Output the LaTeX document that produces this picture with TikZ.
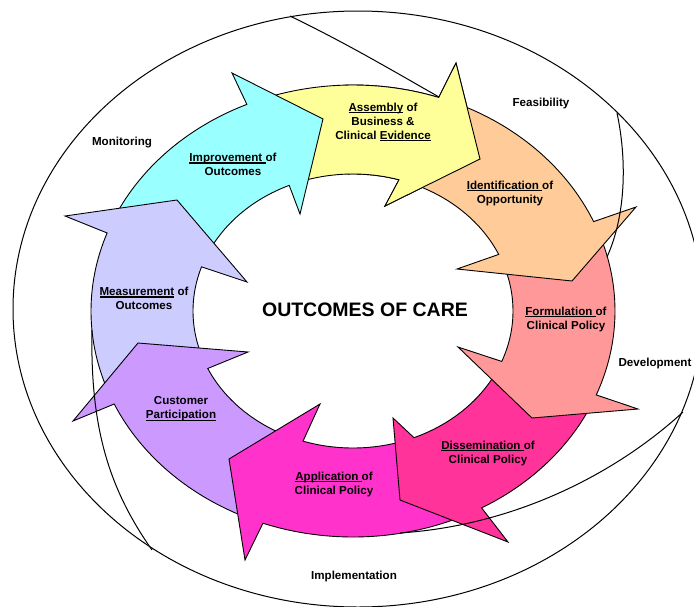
\documentclass[tikz,border=0pt]{standalone}
\usepackage{fontspec}
\setmainfont{Liberation Sans}
\usetikzlibrary{calc}
\definecolor{imprcyan}{HTML}{99FFFF}
\definecolor{asmyellow}{HTML}{FFFF99}
\definecolor{idorange}{HTML}{FFCC99}
\definecolor{formsalmon}{HTML}{FF9999}
\definecolor{dispink}{HTML}{FF3399}
\definecolor{appmagenta}{HTML}{FF33CC}
\definecolor{custviolet}{HTML}{CC99FF}
\definecolor{measlav}{HTML}{CCCCFF}
\tikzstyle{segment} = [draw=black, line width=0.9pt, line join=miter]
\tikzstyle{rim} = [draw=black, line width=1pt]
\tikzstyle{steplabel} = [font=\fontsize{11.6}{14}\selectfont\bfseries, align=center, inner sep=0pt]
\tikzstyle{phaselabel} = [font=\fontsize{11.6}{14}\selectfont\bfseries, inner sep=0pt]
\tikzstyle{hub} = [font=\fontsize{19.5}{23}\selectfont\bfseries, inner sep=0pt]
% thick underline that also covers a trailing space
\newcommand{\ulword}[1]{\setbox0\hbox{#1}\rlap{\rule[-2.4pt]{\wd0}{1.4pt}}\box0\relax}
% one block arrow of the ring: fill, tail (outer, inner), neck (outer, inner), outer barb, tip, inner barb
\newcommand{\ringarrow}[8]{%
  \filldraw[segment, fill=#1] ($(C)+(#2:262 and 226)$)
    arc[start angle=#2, end angle=#4, x radius=262, y radius=226]
    -- #6 -- #7 -- #8 -- ($(C)+(#5:160 and 137)$)
    arc[start angle=#5, end angle=#3, x radius=160, y radius=137] -- cycle;}

\begin{document}
\begin{tikzpicture}[x=1pt, y=-1pt]
\useasboundingbox (0,0) rectangle (694,606);
\clip (0,0) rectangle (694,606);
\coordinate (C) at (353,311);
\coordinate (O) at (358,309);

% outer frame
\draw[rim] (O) ellipse [x radius=345, y radius=298];

% the ring, each head lying on the next tail
\ringarrow{asmyellow}{249}{249}{289.1}{286.7}{(456,63)}{(480,159)}{(385,206)}
\ringarrow{imprcyan}{203}{203}{246.1}{246.5}{(232,73)}{(323,119)}{(300,214)}
\ringarrow{measlav}{158}{158}{200.2}{198.8}{(65,216)}{(177,200)}{(247,282)}
\ringarrow{custviolet}{113}{113}{155.7}{155.2}{(73,421)}{(138,343)}{(248,352)}
\ringarrow{appmagenta}{66}{72}{110.1}{108.2}{(245,560)}{(229,459)}{(320,404)}
\ringarrow{dispink}{25}{25}{60.6}{67.6}{(508,542)}{(400,500)}{(393,418)}
\ringarrow{formsalmon}{-20}{-20}{21.8}{21.6}{(638,409)}{(532,418)}{(458,347)}
\ringarrow{idorange}{292}{292}{336.7}{335.6}{(636,207)}{(572,281)}{(457,269)}
\begin{scope}
  \clip (C) -- ($(C)+(268:420)$) -- ($(C)+(322:420)$) -- cycle;
  \ringarrow{asmyellow}{249}{249}{289.1}{286.7}{(456,63)}{(480,159)}{(385,206)}
\end{scope}

% phase dividers
\draw[rim] (290,16) .. controls (350,45) and (400,75) .. (439,97);
\draw[rim] (617,113) .. controls (627,160) and (626,215) .. (607,257);
\draw[rim] (683,412) .. controls (620,470) and (520,525) .. (400,533);
\draw[rim] (152,550) .. controls (110,490) and (90,430) .. (92,330);

% step labels
\node[steplabel] (improve) at (233,164) {\ulword{Improvement\ }of\\Outcomes};
\node[steplabel] (assembly) at (383,122) {\ulword{Assembly} of\\Business \&\\Clinical \ulword{Evidence}};
\node[steplabel] (ident) at (510,193) {\ulword{Identification\ }of\\Opportunity};
\node[steplabel] (formul) at (566,319) {\ulword{Formulation\ }of\\Clinical Policy};
\node[steplabel] (dissem) at (488,453) {\ulword{Dissemination\ }of\\Clinical Policy};
\node[steplabel] (apply) at (334,484) {\ulword{Application\ }of\\Clinical Policy};
\node[steplabel] (customer) at (181,409) {Customer\\\ulword{Participation}};
\node[steplabel] (measure) at (144,298) {\ulword{Measurement} of\\Outcomes};
\node[hub] (care) at (365,310) {OUTCOMES OF CARE};

% phase labels
\node[phaselabel] (monitor) at (122,143) {Monitoring};
\node[phaselabel] (feasible) at (541,103) {Feasibility};
\node[phaselabel] (develop) at (655,363) {Development};
\node[phaselabel] (implement) at (354,576) {Implementation};
\end{tikzpicture}
\end{document}
